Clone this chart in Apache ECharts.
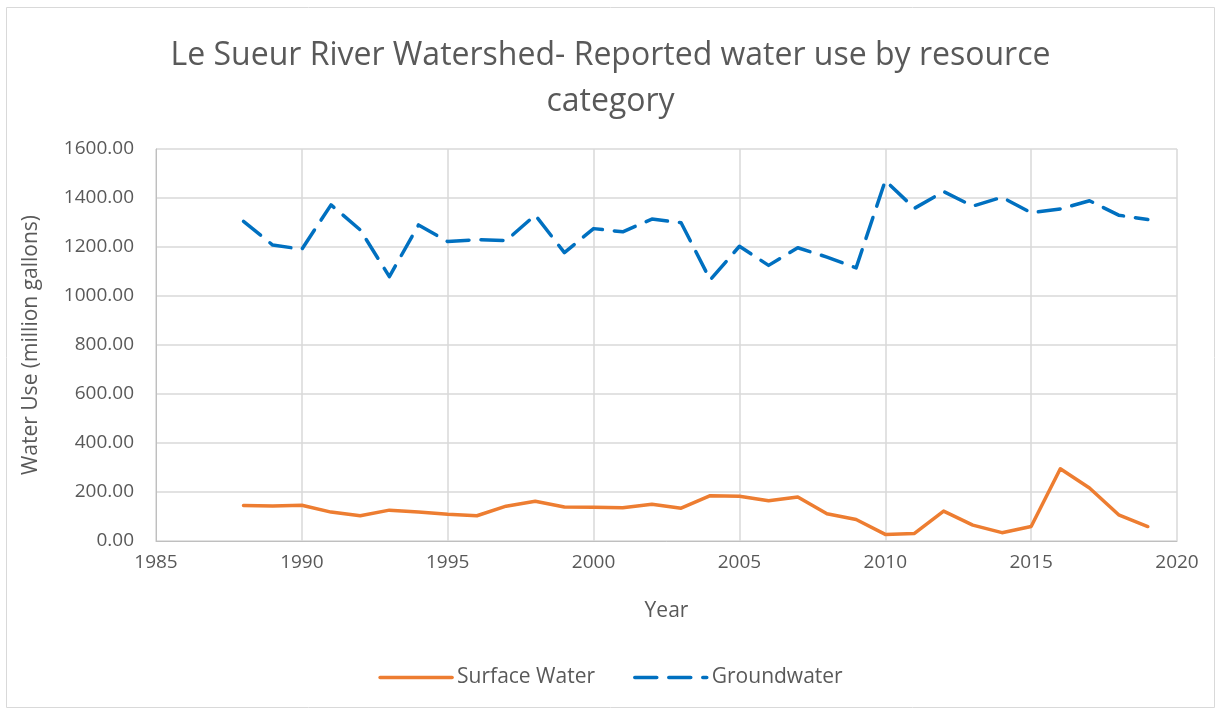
<!DOCTYPE html>
<html>
<head>
<meta charset="utf-8">
<script src="https://cdn.jsdelivr.net/npm/echarts@6/dist/echarts.min.js"></script>
<style>
  html, body { margin: 0; padding: 0; background: #fff; }
  #chart { width: 1221px; height: 715px; }
</style>
</head>
<body>
<div id="chart"></div>
<script>
// values (million gallons)
var years = [1988, 1989, 1990, 1991, 1992, 1993, 1994, 1995, 1996, 1997, 1998, 1999, 2000, 2001, 2002, 2003,
  2004, 2005, 2006, 2007, 2008, 2009, 2010, 2011, 2012, 2013, 2014, 2015, 2016, 2017, 2018, 2019];
var surfaceWater = [145, 143, 146, 118, 103, 126, 118, 109, 103, 142, 162, 139, 138, 136, 150, 134,
  185, 183, 164, 180, 111, 88, 27, 31, 122, 65, 34, 59, 295, 216, 107, 59];
var groundwater = [1305, 1208, 1191, 1372, 1270, 1079, 1290, 1222, 1230, 1226, 1330, 1177, 1275, 1262, 1314, 1299,
  1066, 1203, 1125, 1197, 1159, 1115, 1471, 1358, 1426, 1367, 1403, 1340, 1355, 1389, 1330, 1312];
var seriesNames = ["Surface Water", "Groundwater"];

function pairs(xs, ys) {
  return xs.map(function (x, i) { return [x, ys[i]]; });
}

var textColor = "#595959";
var fontName = "'Open Sans', 'Noto Sans', sans-serif";

var chart = echarts.init(document.getElementById("chart"));
var option = {
  animation: false,
  textStyle: { fontFamily: fontName },
  title: {
    text: "Le Sueur River Watershed- Reported water use by resource\ncategory",
    left: "center",
    top: 28,
    textStyle: {
      fontSize: 32,
      fontWeight: "normal",
      color: textColor,
      lineHeight: 46,
      fontFamily: fontName
    }
  },
  graphic: [
    {
      type: "rect",
      shape: { x: 6.5, y: 7.5, width: 1208, height: 700 },
      style: { fill: "none", stroke: "#d9d9d9", lineWidth: 1 },
      silent: true
    }
  ],
  legend: {
    bottom: 22,
    left: "center",
    itemWidth: 72,
    itemHeight: 14,
    itemGap: 38,
    itemStyle: { opacity: 0 },
    lineStyle: { width: 3.5, cap: "round" },
    textStyle: { fontSize: 21, color: textColor, fontFamily: fontName },
    data: seriesNames
  },
  grid: {
    left: 156,
    right: 44,
    top: 149,
    bottom: 174
  },
  xAxis: {
    type: "value",
    min: 1985,
    max: 2020,
    interval: 5,
    name: "Year",
    nameLocation: "middle",
    nameGap: 60,
    nameTextStyle: { fontSize: 21, color: textColor },
    axisLine: { show: true, lineStyle: { color: "#bfbfbf", width: 1 } },
    axisTick: { show: false },
    axisLabel: {
      fontSize: 19,
      color: textColor,
      margin: 12,
      formatter: function (v) { return String(v); }
    },
    splitLine: { show: true, lineStyle: { color: "#d9d9d9", width: 1.5 } }
  },
  yAxis: {
    type: "value",
    min: 0,
    max: 1600,
    interval: 200,
    name: "Water Use (million gallons)",
    nameLocation: "middle",
    nameGap: 114,
    nameTextStyle: { fontSize: 21, color: textColor },
    axisLine: { show: true, lineStyle: { color: "#bfbfbf", width: 1 } },
    axisTick: { show: false },
    axisLabel: {
      fontSize: 19,
      color: textColor,
      margin: 22,
      formatter: function (v) { return v.toFixed(2); }
    },
    splitLine: { show: true, lineStyle: { color: "#d9d9d9", width: 1.5 } }
  },
  series: [
    {
      name: seriesNames[0],
      type: "line",
      symbol: "none",
      data: pairs(years, surfaceWater),
      lineStyle: { color: "#ed7d31", width: 3.5, cap: "round", join: "round" },
      itemStyle: { color: "#ed7d31" }
    },
    {
      name: seriesNames[1],
      type: "line",
      symbol: "none",
      data: pairs(years, groundwater),
      lineStyle: { color: "#0070c0", width: 3.5, type: [22, 12], cap: "round", join: "round" },
      itemStyle: { color: "#0070c0" }
    }
  ]
};
chart.setOption(option);
</script>
</body>
</html>
